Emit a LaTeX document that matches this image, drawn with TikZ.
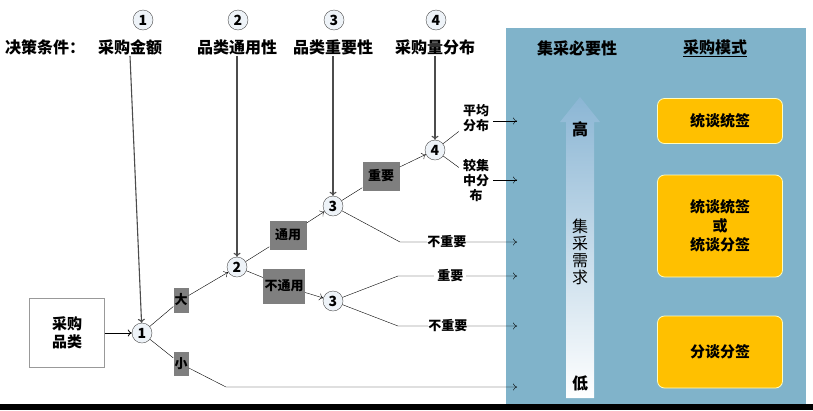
\documentclass[tikz,border=0pt]{standalone}
\usepackage{fontspec}
\setmainfont{Noto Sans CJK SC}
\usetikzlibrary{arrows.meta,positioning,calc}
\definecolor{PanelBlue}{HTML}{80B3CA}
\definecolor{ArrowBlue}{HTML}{8BB6D4}
\definecolor{ModeGold}{HTML}{FFC000}
\definecolor{TagGray}{HTML}{7F7F7F}
\definecolor{DotFill}{HTML}{EEF3F8}

\begin{document}
\begin{tikzpicture}[x=1pt,y=-1pt,>={To[length=4pt,width=7pt]},
 font=\fontsize{13}{15}\selectfont\bfseries,
 head/.style={font=\fontsize{16}{19}\selectfont\bfseries,inner sep=1pt},
 dot/.style={circle,draw=black!70,fill=DotFill,inner sep=0pt,minimum size=20pt,font=\fontsize{14}{16}\selectfont\bfseries},
 tag/.style={fill=TagGray,inner sep=0pt,align=center},
 feed/.style={draw=black!70,line width=1.1pt},
 mode/.style={rounded corners=7pt,draw=yellow!25,thick,fill=ModeGold,minimum width=125pt,align=center,font=\fontsize{15}{19}\selectfont\bfseries}]
\useasboundingbox (0,0) rectangle (813,410);
\fill[white] (0,0) rectangle (813,410);
% right panel
\fill[PanelBlue] (506,28) rectangle (806,404);
\fill[black] (0,404) rectangle (813,410);
\shade[top color=ArrowBlue,bottom color=white] (566,398) -- (566,122) -- (560,122) -- (580,97) -- (600,122) -- (594,122) -- (594,398) -- cycle;

% headers
\node[head,anchor=west] (cond) at (4,47) {决策条件：};
\node[head] (h1) at (130,47) {采购金额};
\node[head] (h2) at (237,47) {品类通用性};
\node[head] (h3) at (333,47) {品类重要性};
\node[head] (h4) at (435,47) {采购量分布};
\node[dot] (n1) at (143,20) {1};
\node[dot] (n2) at (238,20) {2};
\node[dot] (n3) at (334,20) {3};
\node[dot] (n4) at (436,20) {4};
\node[head] (need) at (577,48) {集采必要性};
\node[head] (mode) at (715,48) {\underline{采购模式}};

% tree
\node[draw=black!40,minimum width=75pt,minimum height=69pt,align=center,font=\fontsize{15}{18}\selectfont\bfseries] (item) at (67,333) {采购\\品类};
\node[dot] (c1) at (142,333) {1};
\node[dot] (c2) at (237,267) {2};
\node[dot] (c3a) at (333,206) {3};
\node[dot] (c3b) at (333,301) {3};
\node[dot] (c4) at (435,150) {4};
\node[tag,minimum width=15pt,minimum height=25pt] (big) at (181,300) {大};
\node[tag,minimum width=15pt,minimum height=24pt] (small) at (181,364) {小};
\node[tag,minimum width=37pt,minimum height=29pt] (gen) at (288,235) {通用};
\node[tag,minimum width=42pt,minimum height=35pt] (nongen) at (284,286) {不通用};
\node[tag,minimum width=37pt,minimum height=29pt] (imp) at (381,176) {重要};
\node[align=center,inner sep=4pt] (even) at (476,118) {平均\\分布};
\node[align=center,inner sep=4pt] (conc) at (476,180) {较集\\中分\\布};

\coordinate (s1) at (226,387);
\coordinate (s1end) at (517,387);
\coordinate (k1) at (400,242);
\coordinate (k1end) at (517,242);
\coordinate (k2) at (398,276);
\coordinate (k2end) at (517,276);
\coordinate (k3) at (398,326);
\coordinate (k3end) at (517,326);
\coordinate (a1end) at (517,121);
\coordinate (a2end) at (517,180);

\draw[->,thick] (item) -- (c1);
\draw[->,feed] (h1.south) -- (c1);
\draw[->,feed] (h2.south) -- (c2);
\draw[->,feed] (h3.south) -- (c3a);
\draw[->,feed] (h4.south) -- (c4);
\draw (c1) -- (big);
\draw[->] (big) -- (c2);
\draw (c1) -- (small);
\draw[->] (small) -- (s1) -- (s1end);
\draw (c2) -- (gen);
\draw[->] (gen) -- (c3a);
\draw (c2) -- (nongen);
\draw[->] (nongen) -- (c3b);
\draw (c3a) -- (imp);
\draw[->] (imp) -- (c4);
\draw[->] (c3a) -- (k1) -- node[pos=.4,fill=white,inner sep=0pt] (unimp1) {不重要} (k1end);
\draw[->] (c3b) -- (k2) -- node[pos=.44,fill=white,inner sep=3pt] (imp2) {重要} (k2end);
\draw[->] (c3b) -- (k3) -- node[pos=.42,fill=white,inner sep=0pt] (unimp2) {不重要} (k3end);
\draw (c4) -- (even);
\draw (c4) -- (conc);
\draw[->] (even.east |- a1end) -- (a1end);
\draw[->] (conc.east |- a2end) -- (a2end);

% demand scale
\node[font=\fontsize{16}{18}\selectfont\bfseries] (high) at (580,129) {高};
\node[font=\fontsize{16}{18}\selectfont\bfseries] (low) at (580,383) {低};
\node[font=\fontsize{16}{17}\selectfont\mdseries,align=center] (dem) at (580,252) {集\\采\\需\\求};

% modes
\node[mode,minimum height=45pt] (m1) at (720,121) {统谈统签};
\node[mode,minimum height=102pt] (m2) at (720,226) {统谈统签\\或\\统谈分签};
\node[mode,minimum height=72pt] (m3) at (720,352) {分谈分签};
\end{tikzpicture}
\end{document}
